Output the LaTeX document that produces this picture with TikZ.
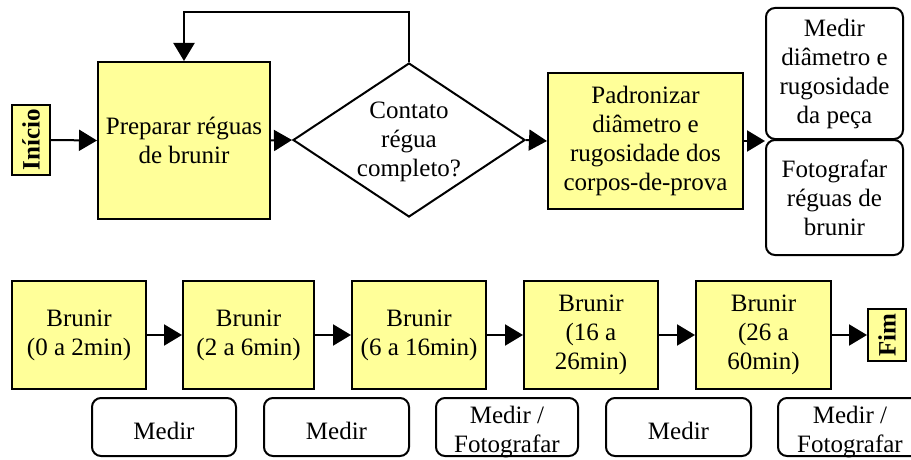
\documentclass[tikz,border=0pt]{standalone}
\usepackage{fontspec}
\setmainfont{Liberation Serif}
\usetikzlibrary{shapes.geometric,arrows.meta}
\definecolor{yel}{HTML}{FFFF99}
\tikzset{
  every node/.style={font=\fontsize{25}{29}\selectfont, align=center, inner sep=0pt},
  ybox/.style={draw, line width=2pt, fill=yel, rectangle},
  rbox/.style={draw, line width=2pt, fill=white, rectangle, rounded corners=9pt},
  conn/.style={line width=2pt, -{Triangle[length=18pt,width=21pt]}},
  line/.style={line width=2pt}
}
\begin{document}
\begin{tikzpicture}[x=1pt,y=-1pt]
\useasboundingbox (0,0) rectangle (911,460);
\clip (0,0) rectangle (911,460);
% top row
\node[ybox, minimum width=38pt, minimum height=70pt] (ini) at (31,140) {};
\node[rotate=90, font=\fontsize{25}{29}\selectfont\bfseries] (initxt) at (31,140) {Início};
\node[ybox, minimum width=172pt, minimum height=157pt] (prep) at (184,140.5) {Preparar réguas\\de brunir};
\node[diamond, draw, line width=2pt, fill=white, minimum width=232pt, minimum height=154pt, aspect=1.5] (dia) at (409,140) {};
\node (diatxt) at (409,142) {Contato\\régua\\completo?};
\node[ybox, minimum width=195pt, minimum height=136pt] (pad) at (645.5,141) {Padronizar\\diâmetro e\\rugosidade dos\\corpos-de-prova};
\node[rbox, minimum width=137pt, minimum height=131pt] (mt) at (834.5,73.5) {Medir\\diâmetro e\\rugosidade\\da peça};
\node[rbox, minimum width=137pt, minimum height=115pt] (ft) at (834.5,197.5) {Fotografar\\réguas de\\brunir};
\draw[conn] (ini.east) -- (prep.west);
\draw[conn] (prep.east) -- (dia.west);
\draw[conn] (dia.east) -- (pad.west);
\draw[conn] (pad.east) -- (pad.east -| mt.south west);
\draw[conn] (dia.north) -- ++(0,-50) -| (prep.north);
% bottom row
\node[ybox, minimum width=134pt, minimum height=108pt] (b1) at (79,335) {Brunir\\(0 a 2min)};
\node[ybox, minimum width=131pt, minimum height=108pt] (b2) at (248.5,335) {Brunir\\(2 a 6min)};
\node[ybox, minimum width=134pt, minimum height=108pt] (b3) at (419,335) {Brunir\\(6 a 16min)};
\node[ybox, minimum width=134pt, minimum height=108pt] (b4) at (591,335) {Brunir\\(16 a\\26min)};
\node[ybox, minimum width=135pt, minimum height=108pt] (b5) at (763.5,335) {Brunir\\(26 a\\60min)};
\node[ybox, minimum width=38pt, minimum height=52pt] (fim) at (887,335) {};
\node[rotate=90, font=\fontsize{25}{29}\selectfont\bfseries] (fimtxt) at (887,335) {Fim};
\draw[conn] (b1.east) -- (b2.west);
\draw[conn] (b2.east) -- (b3.west);
\draw[conn] (b3.east) -- (b4.west);
\draw[conn] (b4.east) -- (b5.west);
\draw[conn] (b5.east) -- (fim.west);
\node[rbox, minimum width=144pt, minimum height=58pt] (ma) at (164,427) {};
\node (matxt) at (164,431) {Medir};
\node[rbox, minimum width=145pt, minimum height=58pt] (mb) at (336.5,427) {};
\node (mbtxt) at (336.5,431) {Medir};
\node[rbox, minimum width=142pt, minimum height=58pt] (mc) at (507,427) {};
\node (mctxt) at (507,432) {Medir /\\Fotografar};
\node[rbox, minimum width=145pt, minimum height=58pt] (md) at (678.5,427) {};
\node (mdtxt) at (678.5,431) {Medir};
\node[rbox, minimum width=144pt, minimum height=58pt] (me) at (850,427) {};
\node (metxt) at (850,432) {Medir /\\Fotografar};
\end{tikzpicture}
\end{document}
